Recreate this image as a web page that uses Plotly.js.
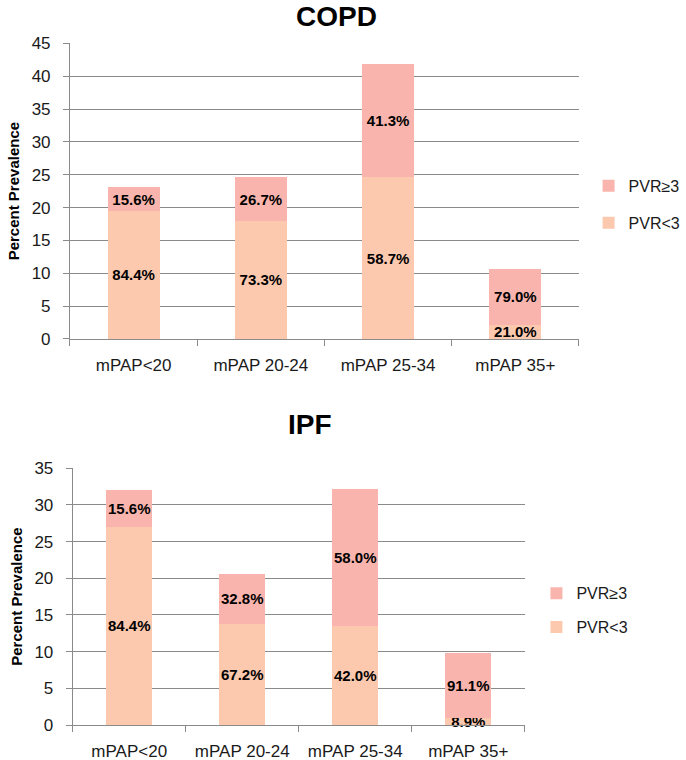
<!DOCTYPE html>
<html>
<head>
<meta charset="utf-8">
<script src="https://cdn.plot.ly/plotly-3.0.1.min.js"></script>
<style>html,body{margin:0;padding:0;background:#fff;overflow:hidden;}#chart{width:686px;height:760px;}</style>
</head>
<body>
<div id="chart"></div>
<script>
var categories = ['mPAP<20', 'mPAP 20-24', 'mPAP 25-34', 'mPAP 35+'];
var seriesNames = ['PVR<3', 'PVR\u22653'];

// COPD (percent prevalence, stacked segments)
var copdLow = [19.5, 18.0, 24.6, 2.2];
var copdHigh = [3.6, 6.6, 17.3, 8.4];
var copdLowLabels = ['84.4%', '73.3%', '58.7%', '21.0%'];
var copdHighLabels = ['15.6%', '26.7%', '41.3%', '79.0%'];

// IPF
var ipfLow = [27.0, 13.8, 13.5, 0.9];
var ipfHigh = [5.0, 6.8, 18.65, 8.85];
var ipfLowLabels = ['84.4%', '67.2%', '42.0%', '8.9%'];
var ipfHighLabels = ['15.6%', '32.8%', '58.0%', '91.1%'];

var colLow = '#FCC9AF';
var colHigh = '#F9B5AD';
var FONT = 'Liberation Sans, Arial, sans-serif';

function bar(y, text, name, color, xa, ya, leg, grp, rank) {
  return {
    type: 'bar', x: categories, y: y, text: text, name: name,
    marker: {color: color, line: {width: 0}},
    xaxis: xa, yaxis: ya, legend: leg, legendgroup: grp, legendrank: rank,
    textposition: 'inside', insidetextanchor: 'middle', constraintext: 'none',
    textangle: 0, cliponaxis: false,
    textfont: {family: FONT, size: 15, color: '#000', weight: 'bold'},
    hoverinfo: 'skip'
  };
}

var data = [
  bar(copdLow, copdLowLabels, seriesNames[0], colLow, 'x', 'y', 'legend', 'a1', 2),
  bar(copdHigh, copdHighLabels, seriesNames[1], colHigh, 'x', 'y', 'legend', 'a2', 1),
  bar(ipfLow, ipfLowLabels, seriesNames[0], colLow, 'x2', 'y2', 'legend2', 'b1', 2),
  bar(ipfHigh, ipfHighLabels, seriesNames[1], colHigh, 'x2', 'y2', 'legend2', 'b2', 1)
];

var gridCol = '#8a8a8a';
function xax(domain, anchor) {
  return {
    domain: domain, anchor: anchor, type: 'category',
    showline: true, linecolor: gridCol, linewidth: 1,
    ticks: 'outside', tickson: 'boundaries', ticklen: 6, tickcolor: gridCol,
    ticklabelstandoff: 11,
    tickfont: {family: FONT, size: 17, color: '#1a1a1a'},
    showgrid: false, zeroline: false, fixedrange: true, automargin: false
  };
}
function yax(domain, anchor, maxv) {
  return {
    domain: domain, anchor: anchor, range: [0, maxv], dtick: 5,
    showline: true, linecolor: gridCol, linewidth: 1,
    ticks: 'outside', ticklen: 6, tickcolor: gridCol,
    showgrid: true, gridcolor: gridCol, gridwidth: 1, zeroline: false,
    ticklabelstandoff: 9,
    tickfont: {family: FONT, size: 17, color: '#1a1a1a'},
    title: {text: 'Percent Prevalence', font: {family: FONT, size: 15, color: '#000', weight: 'bold'}, standoff: 8},
    fixedrange: true, automargin: false
  };
}

var layout = {
  width: 686, height: 760,
  margin: {l: 0, r: 0, t: 0, b: 0, autoexpand: false},
  paper_bgcolor: '#fff', plot_bgcolor: '#fff',
  barmode: 'stack', bargap: 0.59,
  showlegend: true,
  xaxis: xax([0.102, 0.844], 'y'),
  yaxis: yax([0.554, 0.943], 'x', 45),
  xaxis2: xax([0.106, 0.765], 'y2'),
  yaxis2: yax([0.046, 0.384], 'x2', 35),
  legend: {
    x: 0.858, y: 0.731, xanchor: 'left', yanchor: 'middle',
    traceorder: 'grouped', tracegroupgap: 13,
    font: {family: FONT, size: 16, color: '#1a1a1a'},
    bgcolor: 'rgba(0,0,0,0)', itemwidth: 30
  },
  legend2: {
    x: 0.782, y: 0.197, xanchor: 'left', yanchor: 'middle',
    traceorder: 'grouped', tracegroupgap: 10,
    font: {family: FONT, size: 16, color: '#1a1a1a'},
    bgcolor: 'rgba(0,0,0,0)', itemwidth: 30
  },
  annotations: [
    {text: 'COPD', xref: 'paper', yref: 'paper', x: 0.491, y: 0.978, xanchor: 'center', yanchor: 'middle',
     showarrow: false, font: {family: FONT, size: 28, color: '#000', weight: 'bold'}},
    {text: 'IPF', xref: 'paper', yref: 'paper', x: 0.452, y: 0.441, xanchor: 'center', yanchor: 'middle',
     showarrow: false, font: {family: FONT, size: 28, color: '#000', weight: 'bold'}}
  ]
};

Plotly.newPlot('chart', data, layout, {displayModeBar: false, staticPlot: true});
</script>
</body>
</html>
